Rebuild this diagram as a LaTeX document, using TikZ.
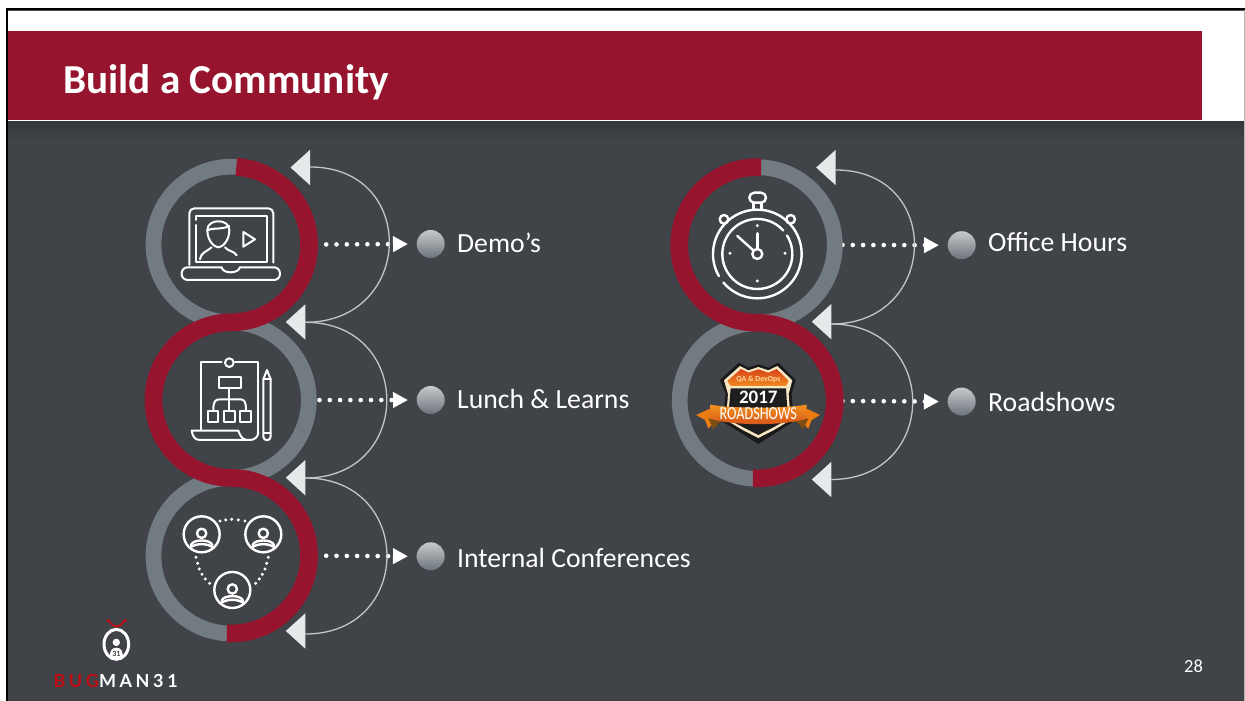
\documentclass[tikz,border=0pt]{standalone}
\usepackage{fontspec}
\usetikzlibrary{arrows.meta,calc}
\setmainfont{Carlito}
\newfontfamily\logofont[LetterSpace=20]{Lato}
\newcommand{\fsz}[1]{\fontsize{#1}{#1}\selectfont}
\definecolor{slate}{HTML}{404347}
\definecolor{slatetop}{HTML}{35383B}
\definecolor{wine}{HTML}{96142D}
\definecolor{ringgrey}{HTML}{737B82}
\definecolor{trifill}{HTML}{E5E9EA}
\definecolor{arcline}{HTML}{C2C6C8}
\definecolor{logored}{HTML}{C00D16}
\definecolor{bultop}{HTML}{C6CACC}
\definecolor{bulbot}{HTML}{6C737A}
\definecolor{badgecream}{HTML}{F8E8C4}
\definecolor{badgeredtop}{HTML}{D9431A}
\definecolor{badgeorange}{HTML}{F08A1F}
\definecolor{bannertop}{HTML}{F3931E}
\definecolor{bannerbot}{HTML}{D4501A}
\definecolor{bannertail}{HTML}{EC7C12}
\definecolor{bannerfold}{HTML}{7C4E14}
\definecolor{badgedark}{HTML}{1E1E1E}
\definecolor{qatext}{HTML}{FFD9A0}
\tikzset{
  ringnode/.style={circle,inner sep=0pt,minimum size=173pt},
  greyring/.style={draw=ringgrey,line width=15.7pt},
  redring/.style={draw=wine,line width=17.7pt},
  returnarc/.style={draw=arcline,line width=1.3pt,out=0,in=0,looseness=1.79},
  triangle fill/.style={fill=trifill},
  bullet/.style={circle,inner sep=0pt,minimum size=28pt,top color=bultop,bottom color=bulbot,draw=none},
  dotconn/.style={white,line width=4.6pt,line cap=round,dash pattern=on 0pt off 10.3pt,shorten <=#1,shorten >=8.5pt,-{Triangle[length=15pt,width=15pt]}},
  label/.style={anchor=base west,inner sep=0pt,text=white,font=\fsz{27.7}},
  icon/.style={draw=white,line width=2pt,line cap=round,line join=round},
  iconthick/.style={draw=white,line width=2.4pt,line cap=round,line join=round},
}
\newcommand{\tri}[1]{\fill[triangle fill] (#1) ++(0,-17.7) -- ++(-19.5,17.7) -- ++(19.5,17.7) -- cycle;}
\begin{document}
\begin{tikzpicture}[x=1pt,y=-1pt]
\useasboundingbox (0,0) rectangle (1245,701);
% page and frame
\fill[white] (0,0) rectangle (1245,701);
\fill[slate] (6,121) rectangle (1244.4,701);
\shade[top color=slatetop,bottom color=slate] (8,121) rectangle (1244.4,140);
\fill[black] (6,8) rectangle (1245,10);
\fill[black!70] (8,10) rectangle (1245,10.8);
\fill[black] (6,8) rectangle (8,701);
\fill[black!30] (1244.2,10) rectangle (1245,701);
\fill[wine] (8,31) rectangle (1201.8,120);
\node[anchor=base west,inner sep=0pt,text=white,font=\fsz{41.2}\bfseries] (title) at (63,93.5) {Build a Community};
\node[anchor=base west,inner sep=0pt,text=white,font=\fsz{18.5}] (page) at (1184,672) {28};

% ring anchors, bullets, arc ends
\node[ringnode] (r1) at (231.3,244.5) {};
\node[ringnode] (r2) at (231,400.1) {};
\node[ringnode] (r3) at (231.3,555.7) {};
\node[ringnode] (r4) at (757,245) {};
\node[ringnode] (r5) at (757.5,401) {};
\node[bullet] (b1) at (430.7,244) {};
\node[bullet] (b2) at (430.7,400) {};
\node[bullet] (b3) at (430.7,556.3) {};
\node[bullet] (b4) at (961.7,245.2) {};
\node[bullet] (b5) at (961.7,401.6) {};
\coordinate (a1) at (310,167);
\coordinate (a2) at (305.3,322.3);
\coordinate (a3) at (305.3,478);
\coordinate (a4) at (305.3,634);
\coordinate (a5) at (835.7,170);
\coordinate (a6) at (831.3,324);
\coordinate (a7) at (831.3,479.5);
\coordinate (t1) at (310,167.5);
\coordinate (t2) at (305.3,322);
\coordinate (t3) at (305.3,477.7);
\coordinate (t4) at (305.3,631);
\coordinate (t5) at (835.7,167.5);
\coordinate (t6) at (831.3,321.7);
\coordinate (t7) at (831.3,479.5);

% dotted connectors
\draw[dotconn=-2.1pt] (r1.east) -- (b1.west);
\draw[dotconn=1.8pt] (r2.east) -- (b2.west);
\draw[dotconn=-2.1pt] (r3.east) -- (b3.west);
\draw[dotconn=-1.2pt] (r4.east) -- (b4.west);
\draw[dotconn=-1.7pt] (r5.east) -- (b5.west);

% grey rings
\foreach \n in {r1,r2,r3,r4,r5} \draw[greyring] (\n) circle[radius=77.8];

% return arcs
\draw[returnarc] (a1) to (a2);
\draw[returnarc] (a2) to (a3);
\draw[returnarc] (a3) to (a4);
\draw[returnarc] (a5) to (a6);
\draw[returnarc] (a6) to (a7);

% red S-curves
\draw[redring] (r1) ++(-86.3:77.8) arc[start angle=-86.3,end angle=90,radius=77.8]
  arc[start angle=-90,end angle=-270,radius=77.8]
  arc[start angle=-90,end angle=93.3,radius=77.8];
\draw[redring] (r4) ++(-87:77.8) arc[start angle=-87,end angle=-270,radius=77.8]
  arc[start angle=-90,end angle=93,radius=77.8];

% triangles
\tri{t1}\tri{t2}\tri{t3}\tri{t4}\tri{t5}\tri{t6}\tri{t7}

% labels
\node[label] (l1) at (457,252) {Demo’s};
\node[label] (l2) at (457,408) {Lunch \& Learns};
\node[label] (l3) at (457,567) {Internal Conferences};
\node[label] (l4) at (988,251.5) {Office Hours};
\node[label] (l5) at (988,411) {Roadshows};

% laptop icon
\begin{scope}[shift={(130,140)},x=.3333pt,y=-.3333pt]
\draw[icon,rounded corners=5pt] (178,375) -- (178,205) -- (430,205) -- (430,368);
\draw[icon] (198,255) -- (198,365) -- (410,365) -- (410,228) -- (198,228) -- (198,240);
\draw[icon,rounded corners=6pt] (275,382) -- (155,382) -- (155,420) -- (450,420) -- (450,382) -- (330,382);
\draw[icon] (275,382) .. controls (278,402) and (325,402) .. (330,382);
\draw[icon] (232,270) .. controls (232,235) and (298,235) .. (298,270) .. controls (298,305) and (275,322) .. (265,322) .. controls (255,322) and (232,305) .. (232,270) -- cycle;
\draw[icon] (232,272) .. controls (245,262) and (275,270) .. (298,258);
\draw[icon] (210,358) .. controls (212,338) and (230,335) .. (245,322);
\draw[icon] (285,322) .. controls (295,335) and (312,332) .. (320,346);
\draw[icon] (340,276) -- (375,298) -- (340,320) -- cycle;
\end{scope}

% org chart icon
\begin{scope}[shift={(130,320)},x=.3333pt,y=-.3333pt]
\draw[icon] (275,127) -- (213,127) -- (213,330);
\draw[icon] (315,127) -- (385,127) -- (385,335);
\draw[icon] (298,128) circle[radius=13];
\draw[icon] (185,332) -- (325,332) .. controls (330,345) and (335,358) .. (350,360);
\draw[icon] (185,332) .. controls (188,350) and (195,360) .. (210,360) -- (360,360) .. controls (375,360) and (385,350) .. (385,335);
\draw[icon] (267,170) rectangle (332,203);
\draw[icon] (298,203) -- (298,270);
\draw[icon] (250,270) .. controls (250,245) and (255,238) .. (270,238) -- (330,238) .. controls (343,238) and (348,245) .. (348,270);
\draw[icon] (235,272) rectangle (265,305);
\draw[icon] (282,272) rectangle (315,305);
\draw[icon] (330,272) rectangle (362,305);
\draw[icon] (400,178) -- (411,150) -- (422,178) -- (422,350) .. controls (422,364) and (400,364) .. (400,350) -- cycle;
\draw[icon] (400,178) -- (422,178);
\draw[icon] (400,340) -- (422,340);
\end{scope}

% people icon
\begin{scope}[shift={(130,320)},x=.3333pt,y=-.3333pt]
\foreach \cx/\cy in {215/643,400/643,307/810}{
  \draw[iconthick] (\cx,\cy) circle[radius=54];
  \draw[iconthick] (\cx,\cy-3) circle[radius=14];
  \draw[iconthick] (\cx-32,\cy+32) .. controls (\cx-26,\cy+14) and (\cx+26,\cy+14) .. (\cx+32,\cy+32);
  \draw[iconthick] (\cx-36,\cy+40) .. controls (\cx-15,\cy+26) and (\cx+15,\cy+26) .. (\cx+36,\cy+40);
}
\foreach \dx/\dy in {270/603,287/600,305/598,325/600,345/603,198/712,203/730,208/747,216/763,226/777,239/790,415/712,410/730,405/747,397/763,388/777,377/790}
  \fill[white] (\dx,\dy) circle[radius=5];
\end{scope}

% stopwatch icon
\begin{scope}[shift={(660,150)},x=.3333pt,y=-.3333pt]
\draw[iconthick] (292,312) ++(150:133) arc[start angle=150,end angle=500,radius=133];
\draw[iconthick] (292,312) ++(-32:105) arc[start angle=-32,end angle=318,radius=105];
\draw[iconthick,rounded corners=5pt] (268,128) rectangle (318,158);
\draw[iconthick] (280,158) -- (280,178) (305,158) -- (305,178);
\draw[iconthick] (192,208) circle[radius=13];
\draw[iconthick] (392,208) circle[radius=13];
\draw[iconthick] (292,312) circle[radius=15];
\draw[iconthick] (232,258) -- (280,301);
\draw[iconthick] (292,250) -- (292,296);
\foreach \dx/\dy in {292/227,375/310,292/393,210/310} \fill[white] (\dx,\dy) circle[radius=5];
\end{scope}

% roadshow badge
\begin{scope}[shift={(660,320)},x=.3333pt,y=-.3333pt]
\fill[black!90] (237,128) -- (265,143) -- (295,133) -- (325,143) -- (355,128) -- (407,180) -- (395,220) -- (400,305) -- (345,340) -- (295,372) -- (245,340) -- (188,305) -- (197,220) -- (180,180) -- cycle;
\fill[badgecream] (240,138) -- (265,151) -- (295,141) -- (325,151) -- (352,138) -- (397,181) -- (386,222) -- (392,300) -- (342,330) -- (295,354) -- (248,330) -- (198,300) -- (204,222) -- (192,181) -- cycle;
\shade[top color=badgeredtop,bottom color=badgeorange] (243,147) -- (265,158) -- (295,148) -- (325,158) -- (350,147) -- (387,183) -- (378,198) -- (212,198) -- (202,183) -- cycle;
\fill[badgedark] (212,205) -- (378,205) -- (384,298) -- (340,322) -- (295,345) -- (250,322) -- (204,298) -- cycle;
\fill[bannertail] (108,285) -- (150,266) -- (170,300) -- (145,326) -- (135,300) -- cycle;
\fill[bannertail] (480,285) -- (440,266) -- (420,300) -- (445,326) -- (455,300) -- cycle;
\fill[bannerfold] (145,295) -- (187,298) -- (160,328) -- cycle;
\fill[bannerfold] (445,295) -- (403,298) -- (430,328) -- cycle;
\shade[top color=bannertop,bottom color=bannerbot] (150,254) .. controls (220,266) and (370,266) .. (440,254) -- (440,296) .. controls (370,318) and (220,318) .. (150,296) -- cycle;
\node[inner sep=0pt,text=qatext,font=\fsz{7.8}\bfseries] (bqa) at (295,178) {QA \& DevOps};
\node[inner sep=0pt,text=white,font=\fsz{19}\bfseries] (byear) at (295,232) {2017};
\node[inner sep=0pt,text=white,font=\fsz{18.4}] (brs) at (295,282) {\scalebox{.77}[1]{ROADSHOWS}};
\end{scope}

% logo
\begin{scope}[shift={(30,610)},x=.3333pt,y=-.3333pt]
\draw[logored,line width=1.6pt] (235,32) -- (252,48) -- (268,48) -- (285,32);
\fill[logored] (235,32) circle[radius=5.5] (285,32) circle[radius=5.5];
\draw[white,line width=3pt] (259,103) ellipse[x radius=37,y radius=45];
\fill[white] (259,97) circle[radius=11];
\fill[white] (242,145) .. controls (236,125) and (245,113) .. (259,113) .. controls (273,113) and (282,125) .. (276,145) -- cycle;
\node[inner sep=0pt,text=slate,font=\fsz{8}\bfseries] (l31) at (259,132) {31};
\node[anchor=base west,inner sep=0pt,text=white,font=\logofont\bfseries\fsz{18}] (logotext) at (70,232) {\textcolor{logored}{BUG}MAN31};
\end{scope}
\end{tikzpicture}
\end{document}
